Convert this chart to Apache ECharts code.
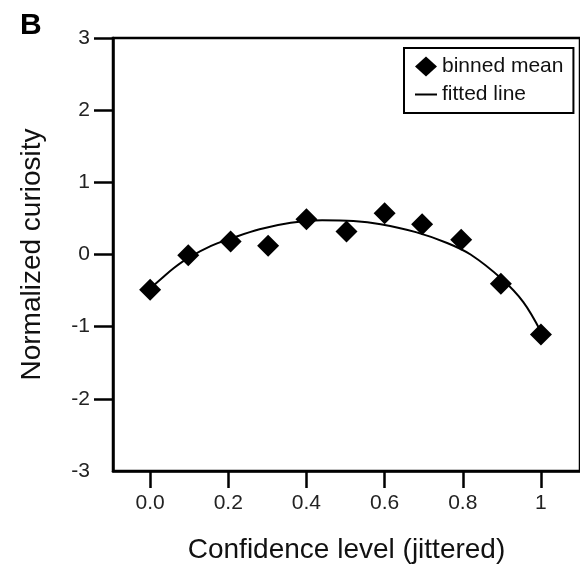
<!DOCTYPE html>
<html>
<head>
<meta charset="utf-8">
<script src="https://cdn.jsdelivr.net/npm/echarts@6/dist/echarts.min.js"></script>
<style>html,body{margin:0;padding:0;background:#fff}#c{width:580px;height:569px}</style>
</head>
<body>
<div id="c"></div>
<script>
// Binned means (x jittered, y normalized curiosity)
var binX = [0.0, 0.0975, 0.206, 0.302, 0.40, 0.5025, 0.60, 0.696, 0.796, 0.8975, 1.0];
var binY = [-0.49, -0.01, 0.18, 0.12, 0.49, 0.32, 0.57, 0.42, 0.205, -0.405, -1.11];
// Fitted line
var fitX = [0.0, 0.03, 0.06, 0.10, 0.156, 0.206, 0.28, 0.36, 0.44, 0.52, 0.59, 0.68, 0.76, 0.82, 0.90, 0.955, 1.0];
var fitY = [-0.47, -0.33, -0.19, -0.04, 0.12, 0.22, 0.35, 0.44, 0.475, 0.465, 0.42, 0.31, 0.16, 0.0, -0.34, -0.66, -1.07];
var xTickValues = [0, 0.2, 0.4, 0.6, 0.8, 1];
var xTickLabels = ['0.0', '0.2', '0.4', '0.6', '0.8', '1'];
var yTickValues = [-3, -2, -1, 0, 1, 2, 3];
var yTickMarks = [-2, -1, 0, 1, 2, 3];

var FONT = '"Liberation Sans", Arial, Helvetica, sans-serif';
var chart = echarts.init(document.getElementById('c'), null, {renderer: 'canvas', width: 580, height: 569});
var binData = binX.map(function (x, i) { return [x, binY[i]]; });
var fitData = fitX.map(function (x, i) { return [x, fitY[i]]; });

chart.setOption({
  animation: false,
  backgroundColor: '#fff',
  grid: {left: 113, top: 38, width: 478, height: 437, show: true, borderColor: '#000', borderWidth: 2.5, backgroundColor: 'transparent'},
  graphic: [{type: 'text', left: 20, top: 11, style: {text: 'B', font: 'bold 30px ' + FONT, fill: '#000'}}],
  legend: {
    left: 404, top: 48, orient: 'vertical',
    borderColor: '#000', borderWidth: 2, borderRadius: 0,
    padding: [8, 10, 8, 11], itemGap: 7, itemWidth: 22, itemHeight: 20,
    textStyle: {fontSize: 21, color: '#111', fontFamily: FONT},
    symbolKeepAspect: true,
    data: [{name: 'binned mean', icon: 'diamond'}, {name: 'fitted line', icon: 'path://M0,0L22,0L22,2L0,2Z'}]
  },
  xAxis: {
    type: 'value', min: -0.095, max: 1.1,
    name: 'Confidence level (jittered)', nameLocation: 'middle', nameGap: 65,
    nameTextStyle: {fontSize: 28, color: '#111', fontFamily: FONT},
    axisLine: {show: true, onZero: false, lineStyle: {color: '#000', width: 2.5}},
    axisTick: {show: true, inside: false, length: 17, lineStyle: {color: '#000', width: 2.5}, customValues: xTickValues},
    axisLabel: {margin: 22, fontSize: 21, color: '#222', fontFamily: FONT, customValues: xTickValues,
      formatter: function (v) { var i = xTickValues.indexOf(v); return i >= 0 ? xTickLabels[i] : ''; }},
    splitLine: {show: false}
  },
  yAxis: {
    type: 'value', min: -3, max: 3, interval: 1,
    name: 'Normalized curiosity', nameLocation: 'middle', nameGap: 67,
    nameTextStyle: {fontSize: 28, color: '#111', fontFamily: FONT},
    axisLine: {show: true, onZero: false, lineStyle: {color: '#000', width: 2.5}},
    axisTick: {show: true, inside: false, length: 19, lineStyle: {color: '#000', width: 2.5}, customValues: yTickMarks},
    axisLabel: {margin: 23, fontSize: 21, color: '#222', fontFamily: FONT, customValues: yTickValues},
    splitLine: {show: false}
  },
  series: [
    {name: 'fitted line', type: 'line', data: fitData, smooth: 0.35, symbol: 'none',
      lineStyle: {color: '#000', width: 2}, itemStyle: {color: '#000'}, z: 2},
    {name: 'binned mean', type: 'scatter', data: binData, symbol: 'diamond', symbolSize: 22,
      itemStyle: {color: '#000', opacity: 1}, z: 3}
  ]
});
</script>
</body>
</html>
